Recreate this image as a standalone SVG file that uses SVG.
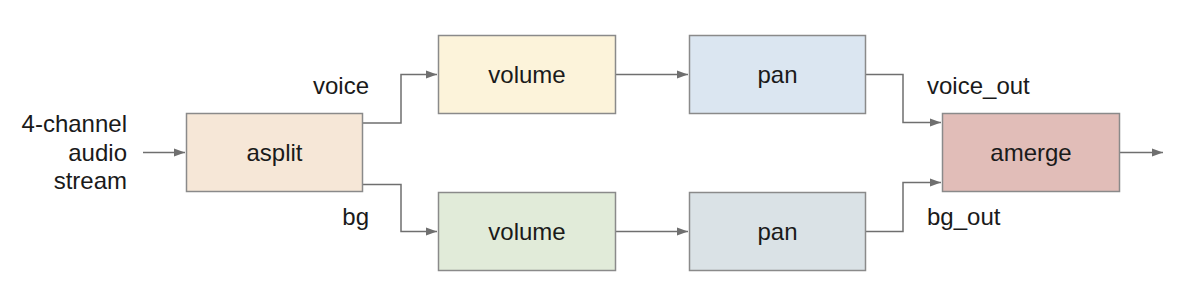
<svg xmlns="http://www.w3.org/2000/svg" width="1194" height="284" viewBox="0 0 1194 284">
<style>
text{font-family:"Liberation Sans",Arial,sans-serif;font-size:24px;fill:#1a1a1a}
.c{text-anchor:middle}
.r{text-anchor:end}
.box{stroke:#8a8a8a;stroke-width:1.5}
.ln{fill:none;stroke:#6f6f6f;stroke-width:1.5}
</style>
<defs>
<marker id="ah" markerWidth="12" markerHeight="10" refX="11" refY="5" orient="auto" markerUnits="userSpaceOnUse">
<path d="M0,1 L11,5 L0,9 Z" fill="#6f6f6f"/>
</marker>
</defs>
<rect width="1194" height="284" fill="#ffffff"/>
<g id="connectors">
<line class="ln" x1="143" y1="152.5" x2="185" y2="152.5" marker-end="url(#ah)"/>
<polyline class="ln" points="363,123 401,123 401,74.5 437,74.5" marker-end="url(#ah)"/>
<polyline class="ln" points="363,184.5 401,184.5 401,231.5 437,231.5" marker-end="url(#ah)"/>
<line class="ln" x1="616" y1="74.5" x2="688" y2="74.5" marker-end="url(#ah)"/>
<line class="ln" x1="616" y1="231.5" x2="688" y2="231.5" marker-end="url(#ah)"/>
<polyline class="ln" points="866,74.5 903,74.5 903,122.5 941,122.5" marker-end="url(#ah)"/>
<polyline class="ln" points="866,231.5 903,231.5 903,182.5 941,182.5" marker-end="url(#ah)"/>
<line class="ln" x1="1120" y1="152.5" x2="1163" y2="152.5" marker-end="url(#ah)"/>
</g>
<g id="input">
<text class="r" x="127" y="132">4-channel</text>
<text class="r" x="127" y="160.5">audio</text>
<text class="r" x="127" y="189">stream</text>
</g>
<g id="asplit">
<rect class="box" x="186.5" y="113.5" width="176" height="78" fill="#f6e7d7"/>
<text class="c" x="274.5" y="161">asplit</text>
</g>
<g id="label-voice"><text class="r" x="369" y="94">voice</text></g>
<g id="label-bg"><text class="r" x="369" y="225">bg</text></g>
<g id="volume-voice">
<rect class="box" x="438.5" y="35.5" width="177" height="78" fill="#fcf3da"/>
<text class="c" x="527" y="83">volume</text>
</g>
<g id="volume-bg">
<rect class="box" x="438.5" y="192.5" width="177" height="78" fill="#e1ebd9"/>
<text class="c" x="527" y="240">volume</text>
</g>
<g id="pan-voice">
<rect class="box" x="689.5" y="35.5" width="176" height="78" fill="#dbe6f1"/>
<text class="c" x="777.5" y="83">pan</text>
</g>
<g id="pan-bg">
<rect class="box" x="689.5" y="192.5" width="176" height="78" fill="#dae2e6"/>
<text class="c" x="777.5" y="240">pan</text>
</g>
<g id="label-voice-out"><text x="927" y="94">voice_out</text></g>
<g id="label-bg-out"><text x="927" y="225">bg_out</text></g>
<g id="amerge">
<rect class="box" x="942.5" y="113.5" width="177" height="78" fill="#e1bdb8"/>
<text class="c" x="1031" y="161">amerge</text>
</g>
</svg>
